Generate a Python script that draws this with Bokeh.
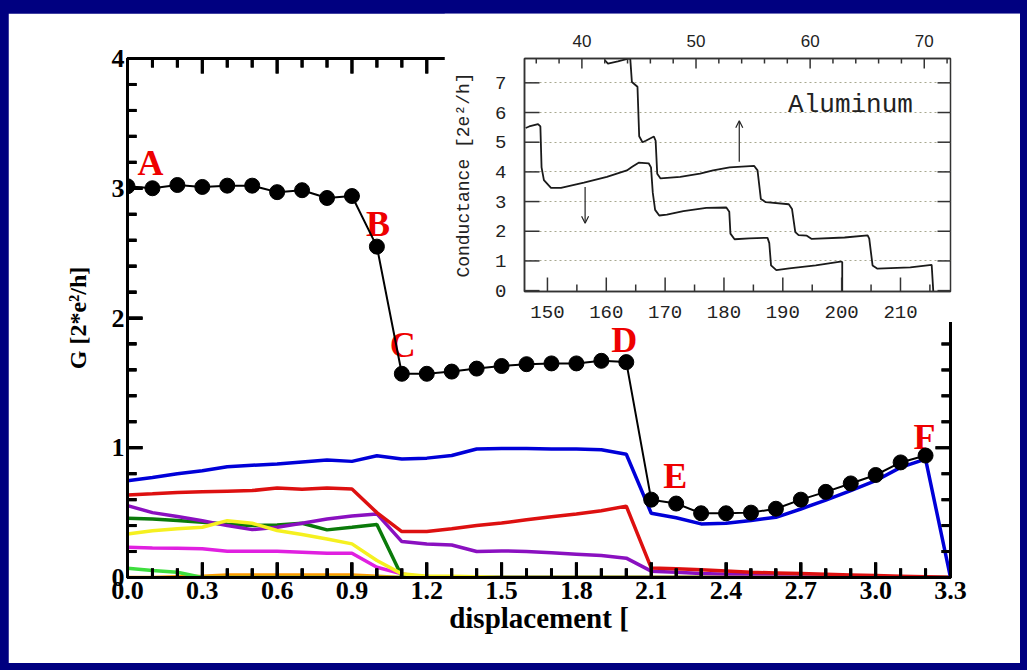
import math
from bokeh.plotting import figure
from bokeh.models import (Range1d, LinearAxis, FixedTicker,
                          PrintfTickFormatter, GridBox, Arrow, OpenHead,
                          ColumnDataSource, Label)
from bokeh.embed import file_html
from bokeh.resources import INLINE
from bokeh.core.properties import value

# ---------------- main plot data ----------------
disp = [0.0, 0.1, 0.2, 0.3, 0.4, 0.5, 0.6, 0.7, 0.8, 0.9, 1.0, 1.1, 1.2, 1.3, 1.4, 1.5, 1.6,
        1.7, 1.8, 1.9, 2.0, 2.1, 2.2, 2.3, 2.4, 2.5, 2.6, 2.7, 2.8, 2.9, 3.0, 3.1, 3.2]
G_total = [3.015, 3.00, 3.025, 3.01, 3.02, 3.02, 2.97, 2.985, 2.925, 2.94, 2.55,
           1.57, 1.57, 1.587, 1.61, 1.63, 1.644, 1.65, 1.65, 1.67, 1.66,
           0.60, 0.57, 0.495, 0.495, 0.50, 0.53, 0.60, 0.66, 0.725, 0.79, 0.887, 0.94]

chan_x = [0.0, 0.1, 0.2, 0.3, 0.4, 0.5, 0.6, 0.7, 0.8, 0.9, 1.0, 1.1, 1.2, 1.3, 1.4, 1.5, 1.6,
          1.7, 1.8, 1.9, 2.0, 2.1, 2.2, 2.3, 2.4, 2.5, 2.6, 2.7, 2.8, 2.9, 3.0, 3.1, 3.2, 3.3]
ch_blue = [0.746, 0.77, 0.80, 0.823, 0.854, 0.865, 0.874, 0.89, 0.905, 0.895, 0.938,
           0.913, 0.92, 0.94, 0.99, 0.995, 0.995, 0.99, 0.99, 0.985, 0.95,
           0.495, 0.46, 0.413, 0.418, 0.44, 0.464, 0.528, 0.597, 0.67, 0.746, 0.849, 0.913, 0.0]
ch_red = [0.636, 0.645, 0.655, 0.66, 0.665, 0.67, 0.69, 0.68, 0.69, 0.682, 0.50,
          0.354, 0.354, 0.375, 0.40, 0.42, 0.445, 0.469, 0.49, 0.515, 0.55,
          0.074, 0.067, 0.06, 0.05, 0.04, 0.035, 0.03, 0.025, 0.02, 0.015, 0.01, 0.005, 0.0]
ch_purple = [0.554, 0.50, 0.47, 0.438, 0.40, 0.369, 0.387, 0.418, 0.451, 0.474, 0.49,
             0.277, 0.259, 0.25, 0.20, 0.205, 0.20, 0.19, 0.18, 0.17, 0.149,
             0.049, 0.04, 0.03, 0.025, 0.02, 0.015, 0.01, 0.01, 0.008, 0.005, 0.005, 0.003, 0.0]
ch_dkgreen = [0.456, 0.45, 0.44, 0.426, 0.41, 0.40, 0.405, 0.418, 0.367, 0.387, 0.408,
              0.01, 0.005, 0.005, 0.0, 0.0, 0.0, 0.0, 0.0, 0.0, 0.0,
              0.0, 0.0, 0.0, 0.0, 0.0, 0.0, 0.0, 0.0, 0.0, 0.0, 0.0, 0.0, 0.0]
ch_yellow = [0.336, 0.36, 0.375, 0.387, 0.438, 0.418, 0.362, 0.331, 0.297, 0.259, 0.131,
             0.028, 0.01, 0.01, 0.005, 0.0, 0.0, 0.0, 0.0, 0.0, 0.0,
             0.0, 0.0, 0.0, 0.0, 0.0, 0.0, 0.0, 0.0, 0.0, 0.0, 0.0, 0.0, 0.0]
ch_magenta = [0.233, 0.228, 0.225, 0.221, 0.203, 0.203, 0.203, 0.195, 0.187, 0.187, 0.079,
              0.028, 0.0, 0.0, 0.0, 0.0, 0.0, 0.0, 0.0, 0.0, 0.0,
              0.0, 0.0, 0.0, 0.0, 0.0, 0.0, 0.0, 0.0, 0.0, 0.0, 0.0, 0.0, 0.0]
ch_ltgreen = [0.072, 0.054, 0.04, 0.0, 0.0, 0.0, 0.0, 0.0, 0.0, 0.0, 0.0,
              0.0, 0.0, 0.0, 0.0, 0.0, 0.0, 0.0, 0.0, 0.0, 0.0,
              0.0, 0.0, 0.0, 0.0, 0.0, 0.0, 0.0, 0.0, 0.0, 0.0, 0.0, 0.0, 0.0]
ch_orange = [0.0, 0.0, 0.005, 0.01, 0.02, 0.02, 0.02, 0.02, 0.02, 0.02, 0.01,
             0.0, 0.0, 0.0, 0.0, 0.0, 0.0, 0.0, 0.0, 0.0, 0.0,
             0.0, 0.0, 0.0, 0.0, 0.0, 0.0, 0.0, 0.0, 0.0, 0.0, 0.0, 0.0, 0.0]

label_names = ["A", "B", "C", "D", "E", "F"]
label_idx = [0, 10, 11, 20, 21, 32]
label_dx = [10, -11, -12, -15, 12, -12]
label_dy = [-23, -23, -29, -22, -24, -19]

x_ticks = [0.0, 0.3, 0.6, 0.9, 1.2, 1.5, 1.8, 2.1, 2.4, 2.7, 3.0, 3.3]
x_minor = [i / 10 for i in range(34) if i % 3 != 0]
y_ticks = [0, 1, 2, 3, 4]
y_minor = [i / 5 for i in range(21) if i % 5 != 0]

# ---------------- inset data ----------------
low_x = [146.3, 146.9, 148.4, 148.8, 149.0, 149.4, 150.6, 152.3, 156.2, 160.1, 163.5, 164.4,
         165.5, 167.2, 167.6, 167.9, 168.3, 169.0, 170.3, 173.1, 177.0, 180.4, 180.9, 181.1,
         181.8, 184.3, 187.4, 187.7, 188.0, 188.9, 191.1, 195.6, 199.8, 200.1, 200.1]
low_G = [5.48, 5.53, 5.61, 5.53, 4.15, 3.72, 3.46, 3.46, 3.64, 3.83, 4.05, 4.17,
         4.31, 4.29, 4.15, 3.30, 2.72, 2.53, 2.56, 2.68, 2.79, 2.80, 2.66, 1.92,
         1.73, 1.76, 1.78, 1.60, 0.85, 0.69, 0.75, 0.85, 0.98, 0.96, -0.08]
up_x = [42.0, 42.28, 43.15, 44.15, 44.24, 44.38, 44.87, 45.02, 45.31, 45.6, 46.31, 46.46,
        46.6, 46.89, 48.62, 50.35, 51.5, 52.94, 55.1, 55.39, 55.68, 56.11, 58.13, 58.41,
        58.7, 58.99, 59.71, 60.14, 63.02, 65.04, 65.18, 65.47, 65.9, 68.78, 70.65, 70.8]
up_G = [7.77, 7.65, 7.72, 7.82, 7.80, 7.03, 6.87, 5.20, 5.00, 5.05, 5.19, 5.05,
        3.94, 3.78, 3.83, 3.94, 4.05, 4.15, 4.20, 4.05, 3.09, 2.98, 2.91, 2.75,
        1.97, 1.87, 1.85, 1.74, 1.79, 1.86, 1.75, 0.85, 0.74, 0.78, 0.87, -0.08]

arrow_x = [156.4, 182.6]
arrow_y0 = [3.49, 4.34]
arrow_y1 = [2.27, 5.72]

inset_bottom_ticks = [150, 160, 170, 180, 190, 200, 210]
inset_bottom_minor = [155, 165, 175, 185, 195, 205, 215]
inset_top_ticks = [40, 50, 60, 70]
inset_top_minor = [36, 38, 42, 44, 46, 48, 52, 54, 56, 58, 62, 64, 66, 68, 72]
inset_y_ticks = [0, 1, 2, 3, 4, 5, 6, 7]

SERIF = "Liberation Serif"
MONO = "Liberation Mono"
UP, DOWN, RIGHT, LEFT = math.pi / 2, -math.pi / 2, 0.0, math.pi

# ---------------- main figure ----------------
X0, X1, Y0, Y1 = 0.0, 3.3, 0.0, 4.0
FRAME_W, FRAME_H = 823, 519
MAJ, MIN = 15, 9                     # tick lengths in pixels
dx_px = (X1 - X0) / FRAME_W          # data units per pixel
dy_px = (Y1 - Y0) / FRAME_H

p = figure(width=1012, height=650, x_range=Range1d(X0, X1), y_range=Range1d(Y0, Y1),
           output_backend="svg", toolbar_location=None,
           x_axis_location=None, y_axis_location=None,
           min_border_left=119, min_border_right=70, min_border_top=45, min_border_bottom=86,
           background_fill_color="white", border_fill_color="white",
           outline_line_color="black", outline_line_width=3)
p.grid.visible = False


def style_axis(ax):
    ax.axis_line_width = 3
    ax.axis_line_color = "black"
    ax.major_tick_line_color = "black"
    ax.minor_tick_line_color = "black"
    ax.major_tick_line_width = 3
    ax.minor_tick_line_width = 3
    ax.major_tick_in = MAJ
    ax.major_tick_out = 0
    ax.minor_tick_in = MIN
    ax.minor_tick_out = 0
    ax.major_label_text_font = SERIF
    ax.major_label_text_font_style = "bold"
    ax.major_label_text_font_size = "26px"
    ax.major_label_text_color = "black"
    ax.axis_label_text_font = SERIF
    ax.axis_label_text_font_style = "bold"
    ax.axis_label_text_color = "black"


bottom_ax = LinearAxis(ticker=FixedTicker(ticks=x_ticks, minor_ticks=x_minor),
                       formatter=PrintfTickFormatter(format="%.1f"))
style_axis(bottom_ax)
bottom_ax.major_label_standoff = 4
bottom_ax.axis_label = "displacement ["
bottom_ax.axis_label_text_font_size = "29px"
bottom_ax.axis_label_standoff = 0
p.add_layout(bottom_ax, "below")

left_ax = LinearAxis(ticker=FixedTicker(ticks=y_ticks, minor_ticks=y_minor))
style_axis(left_ax)
left_ax.major_label_standoff = 3
left_ax.axis_label = "G [2*e²/h]"
left_ax.axis_label_text_font_size = "24px"
left_ax.axis_label_standoff = 18
p.add_layout(left_ax, "left")

channels = [
    (ch_orange, "#ff9900"),
    (ch_ltgreen, "#3ede3e"),
    (ch_magenta, "#e020e0"),
    (ch_dkgreen, "#0a7a0a"),
    (ch_purple, "#8a10c0"),
    (ch_yellow, "#f5f020"),
    (ch_red, "#dd1010"),
    (ch_blue, "#0000d8"),
]
for vals, col in channels:
    p.line(chan_x, vals, line_color=col, line_width=3.5)

lab_src = ColumnDataSource(dict(
    x=[disp[i] for i in label_idx],
    y=[G_total[i] for i in label_idx],
    t=label_names, dx=label_dx, dy=label_dy))
p.text(x="x", y="y", text="t", x_offset="dx", y_offset="dy", source=lab_src,
       text_font=value(SERIF), text_font_style="bold", text_font_size="36px",
       text_color="#ee0000", text_align="left", text_baseline="middle")

p.line(disp, G_total, line_color="black", line_width=2)
p.scatter(disp, G_total, size=15, fill_color="black", line_color="black")

# inward tick marks on all four sides: collected from the tick lists and
# drawn both as overlay-level segments and as head-less arrow annotations
tx0, ty0, tx1, ty1 = [], [], [], []


def hticks(xs, y_edge, length_px, sign):
    for xv in xs:
        tx0.append(xv); ty0.append(y_edge)
        tx1.append(xv); ty1.append(y_edge + sign * length_px * dy_px)


def vticks(ys, x_edge, length_px, sign):
    for yv in ys:
        tx0.append(x_edge); ty0.append(yv)
        tx1.append(x_edge + sign * length_px * dx_px); ty1.append(yv)


hticks(x_ticks, Y0, MAJ, +1)
hticks(x_minor, Y0, MIN, +1)
hticks(x_ticks, Y1, MAJ, -1)
hticks(x_minor, Y1, MIN, -1)
vticks(y_ticks, X0, MAJ, +1)
vticks(y_minor, X0, MIN, +1)
vticks(y_ticks, X1, MAJ, -1)
vticks(y_minor, X1, MIN, -1)

tick_src = ColumnDataSource(dict(x0=tx0, y0=ty0, x1=tx1, y1=ty1))
p.segment(x0="x0", y0="y0", x1="x1", y1="y1", source=tick_src,
          line_color="black", line_width=3, level="overlay")
p.add_layout(Arrow(end=None, start=None, x_start="x0", y_start="y0", x_end="x1", y_end="y1",
                   source=tick_src, line_color="black", line_width=3, level="overlay"))

# ---------------- inset figure ----------------
IX0, IX1, IY0, IY1 = 146.1, 218.5, -0.03, 7.82
TX0, TX1 = 34.97, 72.3
ins = figure(width=576, height=309, x_range=Range1d(IX0, IX1), y_range=Range1d(IY0, IY1),
             output_backend="svg", toolbar_location=None,
             x_axis_location=None, y_axis_location=None,
             min_border_left=80, min_border_right=13, min_border_top=32, min_border_bottom=31,
             background_fill_color="white", border_fill_color="white",
             outline_line_color="#333333", outline_line_width=1.5)
ins.extra_x_ranges = {"top": Range1d(TX0, TX1)}
ins.xgrid.visible = False
ins.ygrid.visible = False


def style_inset_axis(ax):
    ax.axis_line_color = "#333333"
    ax.axis_line_width = 1.5
    ax.major_tick_line_color = None
    ax.minor_tick_line_color = None
    ax.major_label_text_color = "#222222"


bx = LinearAxis(ticker=FixedTicker(ticks=inset_bottom_ticks))
style_inset_axis(bx)
bx.major_label_text_font = MONO
bx.major_label_text_font_size = "19px"
bx.major_label_standoff = 8
ins.add_layout(bx, "below")

ly = LinearAxis(ticker=FixedTicker(ticks=inset_y_ticks))
style_inset_axis(ly)
ly.major_label_text_font = MONO
ly.major_label_text_font_size = "19px"
ly.major_label_standoff = 12
ly.axis_label = "Conductance [2e²/h]"
ly.axis_label_text_font = MONO
ly.axis_label_text_font_style = "normal"
ly.axis_label_text_font_size = "18px"
ly.axis_label_text_color = "#222222"
ly.axis_label_standoff = 18
ins.add_layout(ly, "left")

tx = LinearAxis(x_range_name="top", ticker=FixedTicker(ticks=inset_top_ticks))
style_inset_axis(tx)
tx.major_label_text_font = "Liberation Sans"
tx.major_label_text_font_size = "17px"
tx.major_label_standoff = 6
ins.add_layout(tx, "above")

ins.hspan(y=inset_y_ticks[1:], line_color="#a8a890", line_dash="2 3", line_width=1)

itk = dict(line_color="#333333", line_width=1.5, length_units="screen", level="overlay")
ins.ray(x=inset_bottom_ticks, y=[IY0] * len(inset_bottom_ticks), length=14, angle=UP, **itk)
ins.ray(x=inset_bottom_minor, y=[IY0] * len(inset_bottom_minor), length=7, angle=UP, **itk)
ins.ray(x=inset_top_ticks, y=[IY1] * len(inset_top_ticks), length=10, angle=DOWN,
        x_range_name="top", **itk)
ins.ray(x=inset_top_minor, y=[IY1] * len(inset_top_minor), length=5, angle=DOWN,
        x_range_name="top", **itk)
ins.ray(x=[IX0] * len(inset_y_ticks), y=inset_y_ticks, length=15, angle=RIGHT, **itk)
ins.ray(x=[IX1] * len(inset_y_ticks), y=inset_y_ticks, length=13, angle=LEFT, **itk)

ins.line(low_x, low_G, line_color="#1a1a1a", line_width=1.8)
ins.line(up_x, up_G, line_color="#1a1a1a", line_width=1.8, x_range_name="top")

for xa, y0, y1 in zip(arrow_x, arrow_y0, arrow_y1):
    ins.add_layout(Arrow(end=OpenHead(size=7, line_width=1.2, line_color="#222222"),
                         x_start=xa, y_start=y0, x_end=xa, y_end=y1,
                         line_color="#222222", line_width=1.2))

ins.add_layout(Label(x=190.9, y=6.26, text="Aluminum", text_font=MONO,
                     text_font_size="26px", text_color="#222222",
                     text_align="left", text_baseline="alphabetic"))

# ---------------- page layout ----------------
grid = GridBox(children=[(p, 1, 1, 2, 2), (ins, 1, 2, 1, 1)],
               rows=["13px", "309px", "341px", "7px"],
               cols=["8px", "436px", "576px", "7px"],
               width=1027, height=670,
               styles={"background-color": "#000080"})

open("out.html", "w").write(file_html(grid, INLINE))
